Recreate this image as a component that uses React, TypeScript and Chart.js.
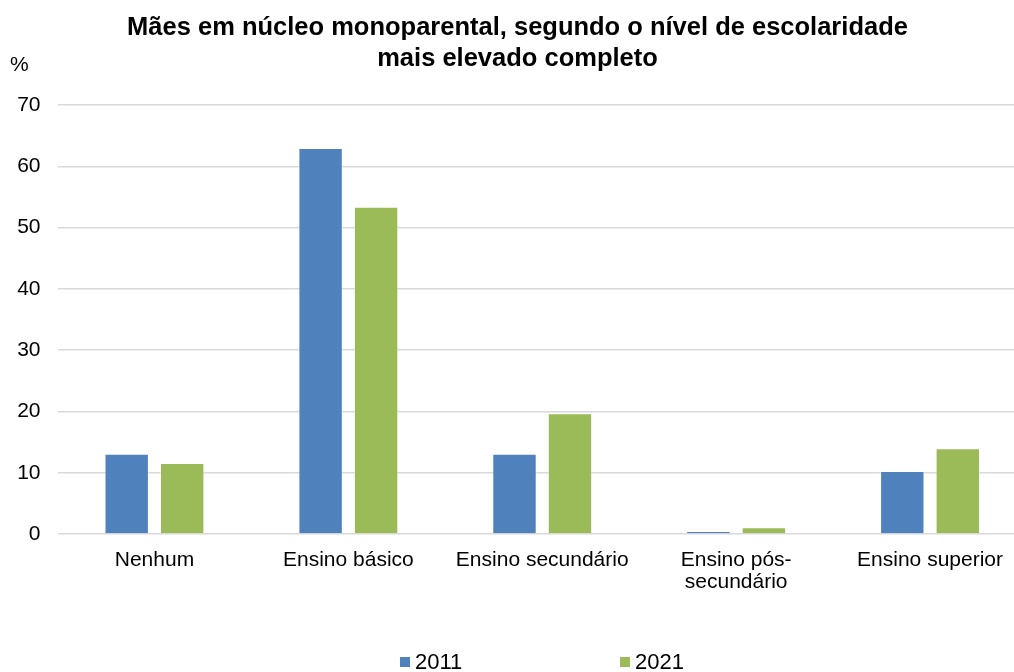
import React, { useEffect, useRef } from "react";
import { Chart, registerables } from "chart.js";

Chart.register(...registerables);

const categories: (string | string[])[] = [
  "Nenhum",
  "Ensino básico",
  "Ensino secundário",
  ["Ensino pós-", "secundário"],
  "Ensino superior",
];
const values2011 = [13.1, 63.0, 13.1, 0.5, 10.3];
const values2021 = [11.6, 53.4, 19.7, 1.1, 14.0];
const seriesLabels = ["2011", "2021"];
const seriesColors = ["#4F81BD", "#9BBB59"];
const yTicks = [0, 10, 20, 30, 40, 50, 60, 70];
const titleLines = [
  "Mães em núcleo monoparental, segundo o nível de escolaridade",
  "mais elevado completo",
];
const unitLabel = "%";

const FONT = "Arial, 'Liberation Sans', sans-serif";

const extrasPlugin = {
  id: "extras",
  afterDraw(chart: any) {
    const ctx = chart.ctx;
    const yScale = chart.scales.y;
    ctx.save();
    ctx.fillStyle = "#000";
    ctx.font = `21px ${FONT}`;
    ctx.textBaseline = "middle";
    ctx.textAlign = "left";
    ctx.fillText(unitLabel, 10, yScale.top - 40);
    // legend
    const legendY = 662;
    const starts = [400, 620];
    ctx.font = `22px ${FONT}`;
    seriesLabels.forEach((lab, i) => {
      ctx.fillStyle = seriesColors[i];
      ctx.fillRect(starts[i], legendY - 5, 10, 10);
      ctx.fillStyle = "#000";
      ctx.fillText(lab, starts[i] + 15, legendY + 1);
    });
    ctx.restore();
  },
};

export default function App() {
  const ref = useRef<HTMLCanvasElement>(null);
  useEffect(() => {
    document.body.style.margin = "0";
    document.body.style.overflow = "hidden";
    const ds = (i: number, data: number[]) => ({
      label: seriesLabels[i],
      data,
      backgroundColor: seriesColors[i],
      borderColor: "rgba(255,255,255,0.45)",
      borderWidth: 1,
      categoryPercentage: 0.5725,
      barPercentage: 0.8,
    });
    const chart = new Chart(ref.current!, {
      type: "bar",
      data: {
        labels: categories,
        datasets: [ds(0, values2011), ds(1, values2021)],
      },
      options: {
        responsive: false,
        animation: false,
        layout: { padding: { left: 8, right: 8, top: 0, bottom: 72 } },
        plugins: {
          legend: { display: false },
          tooltip: { enabled: false },
          title: {
            display: true,
            text: titleLines,
            color: "#000",
            font: { family: FONT, size: 25.5, weight: "bold", lineHeight: 1.24 },
            padding: { top: 12, bottom: 29.8 },
          },
        },
        scales: {
          x: {
            grid: { display: false, drawTicks: false },
            border: { display: false },
            afterFit: (s: any) => {
              s.height = 66;
            },
            ticks: {
              color: "#000",
              font: { family: FONT, size: 21, lineHeight: 1.05 },
              padding: 15,
              maxRotation: 0,
              autoSkip: false,
            },
          },
          y: {
            min: 0,
            max: 70,
            afterBuildTicks: (s: any) => {
              s.ticks = yTicks.map((v) => ({ value: v }));
            },
            afterFit: (s: any) => {
              s.width = 49.5;
            },
            grid: { color: "#D9D9D9", lineWidth: 1.5, drawTicks: false },
            border: { display: false },
            ticks: {
              color: "#000",
              font: { family: FONT, size: 21 },
              padding: 17,
            },
          },
        },
      },
      plugins: [extrasPlugin],
    });
    return () => chart.destroy();
  }, []);
  return <canvas ref={ref} width={1035} height={672} style={{ display: "block" }} />;
}
